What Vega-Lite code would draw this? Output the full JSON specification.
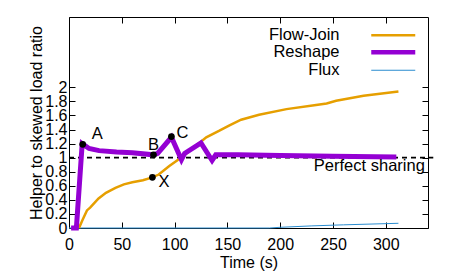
{
  "$schema": "https://vega.github.io/schema/vega-lite/v6.json",
  "width": 359,
  "height": 211,
  "autosize": {"type": "none"},
  "padding": {"left": 69, "top": 17, "right": 29, "bottom": 46},
  "config": {
    "font": "Liberation Sans",
    "view": {"stroke": "#000000", "strokeWidth": 1},
    "axis": {"grid": false, "domain": false, "tickColor": "#000000", "labelColor": "#000000", "titleColor": "#000000", "labelFontSize": 16, "titleFontSize": 16, "titleFontWeight": "normal", "labelOverlap": false, "labelFlush": false, "tickSize": -6}
  },
  "datasets": {
    "lines": [
      {"series": "Reshape", "t": 2, "v": 0},
      {"series": "Reshape", "t": 7, "v": 0},
      {"series": "Reshape", "t": 12.5, "v": 1.2},
      {"series": "Reshape", "t": 19, "v": 1.13},
      {"series": "Reshape", "t": 28.5, "v": 1.1},
      {"series": "Reshape", "t": 45, "v": 1.08},
      {"series": "Reshape", "t": 60, "v": 1.07},
      {"series": "Reshape", "t": 80, "v": 1.04},
      {"series": "Reshape", "t": 84, "v": 1.06},
      {"series": "Reshape", "t": 97, "v": 1.29},
      {"series": "Reshape", "t": 106.5, "v": 0.97},
      {"series": "Reshape", "t": 109.5, "v": 1.06},
      {"series": "Reshape", "t": 125, "v": 1.21},
      {"series": "Reshape", "t": 135.5, "v": 0.96},
      {"series": "Reshape", "t": 139, "v": 1.04},
      {"series": "Reshape", "t": 160, "v": 1.04},
      {"series": "Reshape", "t": 200, "v": 1.03},
      {"series": "Reshape", "t": 250, "v": 1.02},
      {"series": "Reshape", "t": 310, "v": 1.01},
      {"series": "Flow-Join", "t": 9.5, "v": 0},
      {"series": "Flow-Join", "t": 13, "v": 0.12},
      {"series": "Flow-Join", "t": 17, "v": 0.25},
      {"series": "Flow-Join", "t": 20, "v": 0.29},
      {"series": "Flow-Join", "t": 28, "v": 0.42},
      {"series": "Flow-Join", "t": 35, "v": 0.5},
      {"series": "Flow-Join", "t": 44, "v": 0.57},
      {"series": "Flow-Join", "t": 52, "v": 0.62},
      {"series": "Flow-Join", "t": 60, "v": 0.65},
      {"series": "Flow-Join", "t": 70, "v": 0.68},
      {"series": "Flow-Join", "t": 79, "v": 0.72},
      {"series": "Flow-Join", "t": 85, "v": 0.76},
      {"series": "Flow-Join", "t": 95, "v": 0.88},
      {"series": "Flow-Join", "t": 106, "v": 1.0},
      {"series": "Flow-Join", "t": 118, "v": 1.14},
      {"series": "Flow-Join", "t": 130, "v": 1.29},
      {"series": "Flow-Join", "t": 142, "v": 1.38},
      {"series": "Flow-Join", "t": 152, "v": 1.46},
      {"series": "Flow-Join", "t": 163, "v": 1.54},
      {"series": "Flow-Join", "t": 180, "v": 1.61},
      {"series": "Flow-Join", "t": 206, "v": 1.69},
      {"series": "Flow-Join", "t": 234, "v": 1.75},
      {"series": "Flow-Join", "t": 244, "v": 1.77},
      {"series": "Flow-Join", "t": 253, "v": 1.81},
      {"series": "Flow-Join", "t": 279, "v": 1.88},
      {"series": "Flow-Join", "t": 312, "v": 1.94},
      {"series": "Flux", "t": 0, "v": 0},
      {"series": "Flux", "t": 190, "v": 0},
      {"series": "Flux", "t": 200, "v": 0.01},
      {"series": "Flux", "t": 230, "v": 0.03},
      {"series": "Flux", "t": 260, "v": 0.045},
      {"series": "Flux", "t": 312, "v": 0.067}
    ],
    "pts": [
      {"label": "A", "t": 13, "v": 1.19},
      {"label": "B", "t": 80, "v": 1.04},
      {"label": "C", "t": 97, "v": 1.3},
      {"label": "X", "t": 79, "v": 0.72}
    ],
    "ref": [
      {"t": 0, "t2": 345, "v": 1, "text": "Perfect sharing", "tt": 337}
    ]
  },
  "resolve": {"axis": {"x": "independent", "y": "independent"}},
  "layer": [
    {
      "data": {"name": "ref"},
      "mark": {"type": "rule", "color": "#000000", "strokeWidth": 1.8, "strokeDash": [5, 4]},
      "encoding": {
        "x": {"field": "t", "type": "quantitative", "scale": {"domain": [0, 340], "nice": false, "zero": false},
          "axis": {"orient": "top", "values": [0, 50, 100, 150, 200, 250, 300], "labels": false, "title": null}},
        "x2": {"field": "t2"},
        "y": {"field": "v", "type": "quantitative", "scale": {"domain": [0, 3], "nice": false},
          "axis": {"orient": "right", "values": [0, 0.2, 0.4, 0.6, 0.8, 1, 1.2, 1.4, 1.6, 1.8, 2], "labels": false, "title": null}}
      }
    },
    {
      "data": {"name": "lines"},
      "transform": [{"filter": "datum.series == 'Flux'"}],
      "mark": {"type": "line", "strokeWidth": 1},
      "encoding": {
        "x": {"field": "t", "type": "quantitative", "scale": {"domain": [0, 340], "nice": false, "zero": false},
          "axis": {"orient": "bottom", "values": [0, 50, 100, 150, 200, 250, 300], "title": "Time (s)", "labelPadding": 14, "titlePadding": 2}},
        "y": {"field": "v", "type": "quantitative", "scale": {"domain": [0, 3], "nice": false},
          "axis": {"orient": "left", "values": [0, 0.2, 0.4, 0.6, 0.8, 1, 1.2, 1.4, 1.6, 1.8, 2], "format": "~g", "title": "Helper to skewed load ratio", "labelPadding": 8, "titlePadding": 0}},
        "order": {"field": "t", "type": "quantitative"},
        "color": {"field": "series", "type": "nominal",
          "scale": {"domain": ["Flow-Join", "Reshape", "Flux"], "range": ["#e69f00", "#9400d3", "#2a8ccf"]},
          "legend": {"title": null, "orient": "none", "legendX": 316, "legendY": 10, "direction": "vertical", "symbolType": "stroke", "symbolSize": 1936, "rowPadding": -2.5, "padding": 0, "labelAlign": "right", "labelOffset": -62, "labelFontSize": 16.5, "labelColor": "#000000", "labelLimit": 300,
            "encode": {"symbols": {"update": {"strokeWidth": {"signal": "datum.value === 'Reshape' ? 4.5 : datum.value === 'Flux' ? 1 : 2.5"}}}}}}
      }
    },
    {
      "data": {"name": "lines"},
      "transform": [{"filter": "datum.series == 'Flow-Join'"}],
      "mark": {"type": "line", "strokeWidth": 2.5},
      "encoding": {
        "x": {"field": "t", "type": "quantitative", "axis": null},
        "y": {"field": "v", "type": "quantitative", "axis": null},
        "order": {"field": "t", "type": "quantitative"},
        "color": {"field": "series", "type": "nominal"}
      }
    },
    {
      "data": {"name": "lines"},
      "transform": [{"filter": "datum.series == 'Reshape'"}],
      "mark": {"type": "line", "strokeWidth": 5, "strokeCap": "butt", "strokeJoin": "miter"},
      "encoding": {
        "x": {"field": "t", "type": "quantitative", "axis": null},
        "y": {"field": "v", "type": "quantitative", "axis": null},
        "order": {"field": "t", "type": "quantitative"},
        "color": {"field": "series", "type": "nominal"}
      }
    },
    {
      "data": {"name": "pts"},
      "mark": {"type": "point", "filled": true, "color": "#000000", "size": 45, "opacity": 1},
      "encoding": {
        "x": {"field": "t", "type": "quantitative", "axis": null},
        "y": {"field": "v", "type": "quantitative", "axis": null}
      }
    },
    {
      "data": {"name": "pts"},
      "transform": [{"filter": "datum.label == 'A'"}],
      "mark": {"type": "text", "align": "left", "baseline": "middle", "dx": 9, "dy": -10, "fontSize": 16.5, "color": "#000000"},
      "encoding": {
        "x": {"field": "t", "type": "quantitative", "axis": null},
        "y": {"field": "v", "type": "quantitative", "axis": null},
        "text": {"field": "label"}
      }
    },
    {
      "data": {"name": "pts"},
      "transform": [{"filter": "datum.label == 'B'"}],
      "mark": {"type": "text", "align": "center", "baseline": "middle", "dx": 0, "dy": -10, "fontSize": 16.5, "color": "#000000"},
      "encoding": {
        "x": {"field": "t", "type": "quantitative", "axis": null},
        "y": {"field": "v", "type": "quantitative", "axis": null},
        "text": {"field": "label"}
      }
    },
    {
      "data": {"name": "pts"},
      "transform": [{"filter": "datum.label == 'C'"}],
      "mark": {"type": "text", "align": "left", "baseline": "middle", "dx": 5, "dy": -4, "fontSize": 16.5, "color": "#000000"},
      "encoding": {
        "x": {"field": "t", "type": "quantitative", "axis": null},
        "y": {"field": "v", "type": "quantitative", "axis": null},
        "text": {"field": "label"}
      }
    },
    {
      "data": {"name": "pts"},
      "transform": [{"filter": "datum.label == 'X'"}],
      "mark": {"type": "text", "align": "left", "baseline": "middle", "dx": 6, "dy": 5, "fontSize": 16.5, "color": "#000000"},
      "encoding": {
        "x": {"field": "t", "type": "quantitative", "axis": null},
        "y": {"field": "v", "type": "quantitative", "axis": null},
        "text": {"field": "label"}
      }
    },
    {
      "data": {"name": "ref"},
      "mark": {"type": "text", "align": "right", "baseline": "middle", "dy": 8, "fontSize": 16.5, "color": "#000000"},
      "encoding": {
        "x": {"field": "tt", "type": "quantitative", "axis": null},
        "y": {"field": "v", "type": "quantitative", "axis": null},
        "text": {"field": "text"}
      }
    }
  ]
}
